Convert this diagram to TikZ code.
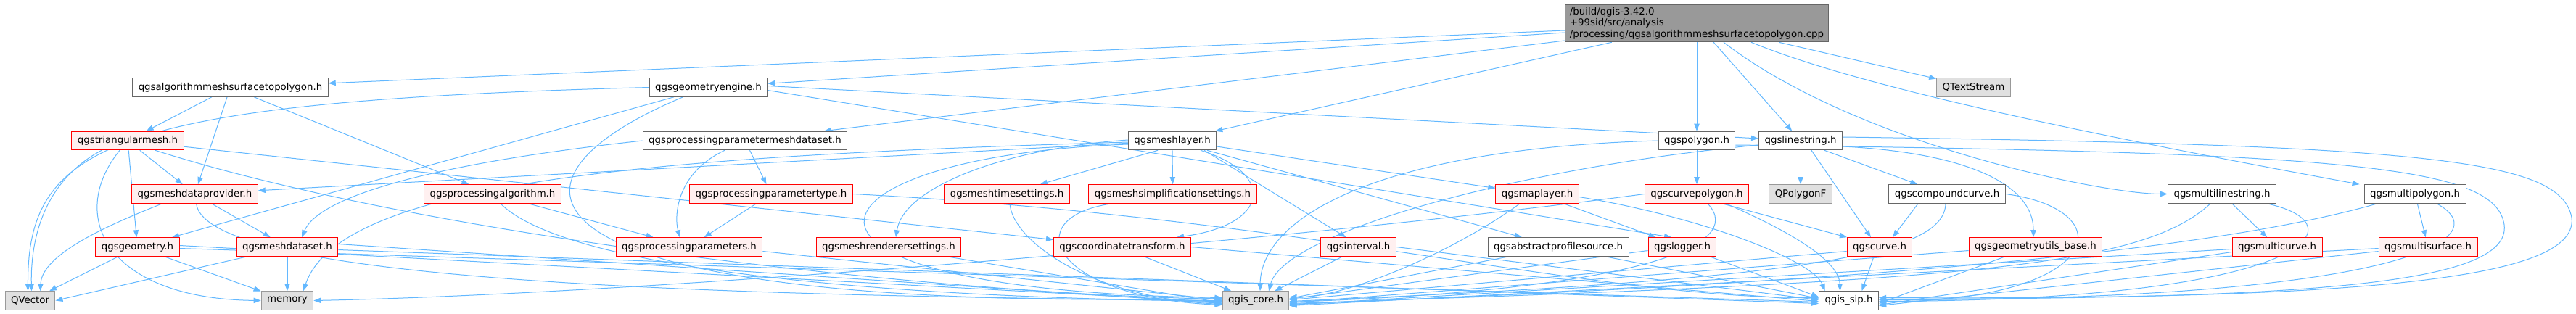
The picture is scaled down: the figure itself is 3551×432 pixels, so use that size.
\documentclass[tikz,border=0pt]{standalone}
\usepackage{fontspec}
\setmainfont{DejaVu Sans}
\usetikzlibrary{arrows.meta,calc}
\definecolor{edgec}{HTML}{63B8FF}
\definecolor{rootfill}{HTML}{999999}
\definecolor{rootdraw}{HTML}{666666}
\definecolor{wdraw}{HTML}{666666}
\definecolor{redfill}{HTML}{FFF0F0}
\definecolor{reddraw}{HTML}{FF0000}
\definecolor{grayfill}{HTML}{E0E0E0}
\definecolor{graydraw}{HTML}{999999}
\pgfdeclarelayer{bg}
\pgfsetlayers{bg,main}
\begin{document}
\begin{tikzpicture}[x=0.75pt,y=0.75pt,
  every node/.style={font=\fontsize{10}{11.5}\selectfont, inner xsep=6pt, inner ysep=0pt, minimum height=19.2pt, line width=0.75pt},
  rootn/.style={fill=rootfill, draw=rootdraw, align=left, inner ysep=3pt, inner xsep=5pt},
  wn/.style={fill=white, draw=wdraw},
  rn/.style={fill=redfill, draw=reddraw},
  gn/.style={fill=grayfill, draw=graydraw},
  edg/.style={draw=edgec, line width=0.75pt, -{Triangle[length=7.5pt,width=5.5pt]}}
]
\useasboundingbox (0,0) rectangle (3551,-432);
% root
\node[rootn] (root) at (2339,-32) {/build/qgis-3.42.0\\+99sid/src/analysis\\/processing/qgsalgorithmmeshsurfacetopolygon.cpp};
% row 1
\node[wn] (alg) at (317.5,-120.5) {qgsalgorithmmeshsurfacetopolygon.h};
\node[wn] (ge) at (976.5,-120.5) {qgsgeometryengine.h};
\node[gn] (qts) at (2720.5,-120.5) {QTextStream};
% row 2
\node[rn] (tri) at (176,-194) {qgstriangularmesh.h};
\node[wn] (ppmd) at (1027,-194) {qgsprocessingparametermeshdataset.h};
\node[wn] (ml) at (1616,-194) {qgsmeshlayer.h};
\node[wn] (poly) at (2339,-194) {qgspolygon.h};
\node[wn] (ls) at (2482,-194) {qgslinestring.h};
% row 3
\node[rn] (mdp) at (268.5,-267.5) {qgsmeshdataprovider.h};
\node[rn] (palg) at (679,-267.5) {qgsprocessingalgorithm.h};
\node[rn] (ppt) at (1063,-267.5) {qgsprocessingparametertype.h};
\node[rn] (mts) at (1388,-267.5) {qgsmeshtimesettings.h};
\node[rn] (mss) at (1616.5,-267.5) {qgsmeshsimplificationsettings.h};
\node[rn] (mapl) at (2119,-267.5) {qgsmaplayer.h};
\node[rn] (cpoly) at (2339,-267.5) {qgscurvepolygon.h};
\node[gn] (qpf) at (2482,-267.5) {QPolygonF};
\node[wn] (ccur) at (2684,-267.5) {qgscompoundcurve.h};
\node[wn] (mls) at (3063,-267.5) {qgsmultilinestring.h};
\node[wn] (mpoly) at (3329,-267.5) {qgsmultipolygon.h};
% row 4
\node[rn] (geom) at (189.5,-340.5) {qgsgeometry.h};
\node[rn] (mds) at (396,-340.5) {qgsmeshdataset.h};
\node[rn] (pp) at (950,-340.5) {qgsprocessingparameters.h};
\node[rn] (mrs) at (1225,-340.5) {qgsmeshrenderersettings.h};
\node[rn] (ct) at (1547,-340.5) {qgscoordinatetransform.h};
\node[rn] (intv) at (1872.5,-340.5) {qgsinterval.h};
\node[wn] (aps) at (2148,-340.5) {qgsabstractprofilesource.h};
\node[rn] (log) at (2319,-340.5) {qgslogger.h};
\node[rn] (curve) at (2591,-340.5) {qgscurve.h};
\node[rn] (gub) at (2806,-340.5) {qgsgeometryutils\_base.h};
\node[rn] (mcur) at (3139,-340.5) {qgsmulticurve.h};
\node[rn] (msurf) at (3347,-340.5) {qgsmultisurface.h};
% row 5
\node[gn] (qv) at (41.5,-414.5) {QVector};
\node[gn] (mem) at (396,-414.5) {memory};
\node[gn] (qc) at (1731,-414.5) {qgis\_core.h};
\node[wn] (qs) at (2548.5,-414.5) {qgis\_sip.h};

\begin{pgfonlayer}{bg}
% root
\draw[edg] ($(root.west)+(0,-10)$) -- (alg);
\draw[edg] ($(root.west)+(0,-13)$) -- (ge);
\draw[edg] ($(root.west)+(0,-24)$) -- (ppmd);
\draw[edg] (root) -- (ml);
\draw[edg] (root) -- (poly);
\draw[edg] (root) -- (ls);
\draw[edg] (root) -- (qts);
\draw[edg] ($(root.south)+(75,0)$) .. controls (2560,-118) and (2850,-180) .. ($(mpoly.north west)+(-6,0)$);
\draw[edg] ($(root.south)+(37,0)$) .. controls (2560,-200) and (2900,-267.5) .. (mls.west);
% alg
\draw[edg] (alg) -- (tri);
\draw[edg] (alg) -- (mdp);
\draw[edg] (alg) -- (palg);
% geometry engine
\draw[edg] (ge.west) .. controls (150,-140) and (38,-200) .. ($(qv.north)+(-3,0)$);
\draw[edg] (ge) -- (geom);
\draw[edg] ($(ge.south)+(-35,0)$) .. controls (640,-260) and (720,-430) .. ($(qc.west)+(0,3)$);
\draw[edg] ($(ge.east)+(0,2)$) -- (ls);
\draw[edg] ($(ge.east)+(0,-4)$) -- ($(log.north)+(-15,0)$);
% triangular mesh
\draw[edg] ($(tri.south)+(-36,0)$) .. controls (60,-250) and (42,-330) .. ($(qv.north)+(2,0)$);
\draw[edg] ($(tri.south)+(-11,0)$) .. controls (90,-300) and (150,-412) .. (mem.west);
\draw[edg] (tri) -- (geom);
\draw[edg] (tri) -- (mdp);
\draw[edg] (tri) -- (ct);
\draw[edg] ($(tri.south)+(38,0)$) .. controls (600,-330) and (1300,-405) .. ($(qc.west)+(0,2)$);
% mesh data provider
\draw[edg] ($(mdp.south)+(-45,0)$) .. controls (150,-310) and (58,-350) .. ($(qv.north)+(14,0)$);
\draw[edg] (mdp) -- (mds);
\draw[edg] ($(mdp.south)+(2,0)$) .. controls (285,-390) and (1000,-408) .. (qc.west);
% geometry
\draw[edg] (geom) -- (qv);
\draw[edg] (geom) -- (mem);
\draw[edg] ($(geom.east)+(0,2)$) -- ($(qc.west)+(0,-2)$);
\draw[edg] ($(geom.east)+(0,-2)$) -- ($(qs.west)+(0,-2)$);
% mesh dataset
\draw[edg] ($(mds.south west)+(15,0)$) -- (qv.east);
\draw[edg] (mds) -- (mem);
\draw[edg] ($(mds.east)+(0,4)$) -- ($(qc.west)+(0,-4)$);
\draw[edg] ($(mds.east)+(0,-4)$) -- ($(qs.west)+(0,-4)$);
% processing algorithm
\draw[edg] (palg) -- (pp);
\draw[edg] ($(palg.south)+(11,0)$) .. controls (780,-370) and (1200,-410) .. ($(qc.west)+(0,-1)$);
% processing parameter mesh dataset
\draw[edg] (ppmd.west) .. controls (600,-225) and (440,-270) .. ($(mds.north)+(20,0)$);
\draw[edg] ($(ppmd.south)+(-28,0)$) .. controls (930,-240) and (930,-300) .. ($(pp.north)+(-13,0)$);
\draw[edg] (ppmd) -- (ppt);
% processing parameter type
\draw[edg] (ppt) -- (pp);
\draw[edg] (ppt.east) .. controls (1800,-300) and (2200,-412) .. ($(qs.west)+(0,4)$);
% processing parameters / renderer settings
\draw[edg] ($(pp.east)+(0,-6)$) -- ($(qc.west)+(0,1)$);
\draw[edg] ($(mrs.south east)+(-20,0)$) -- ($(qc.west)+(0,-3)$);
% mesh layer
\draw[edg] (ml) -- (mdp);
\draw[edg] ($(ml.west)+(0,-2)$) .. controls (900,-215) and (470,-250) .. ($(mem.north)+(22,0)$);
\draw[edg] ($(ml.west)+(0,1)$) .. controls (1380,-205) and (1245,-260) .. ($(mrs.north)+(10,0)$);
\draw[edg] ($(ml.west)+(0,-5)$) .. controls (1100,-215) and (1000,-400) .. ($(qc.west)+(0,4)$);
\draw[edg] ($(ml.south)+(-20,0)$) -- (mts);
\draw[edg] (ml) -- (mss);
\draw[edg] ($(ml.south)+(39,0)$) .. controls (1760,-240) and (1750,-310) .. ($(ct.north)+(75,0)$);
\draw[edg] ($(ml.south)+(44,0)$) -- ($(intv.north)+(-17,0)$);
\draw[edg] ($(ml.east)+(0,-8)$) -- ($(mapl.west)+(0,8)$);
\draw[edg] ($(ml.south)+(48,0)$) -- ($(aps.north)+(-50,0)$);
% time / simplification settings
\draw[edg] ($(mts.south)+(4,0)$) .. controls (1395,-330) and (1500,-410) .. ($(qc.west)+(0,-5)$);
\draw[edg] ($(mss.south)+(-84,0)$) .. controls (1400,-300) and (1450,-410) .. ($(qc.west)+(0,-6)$);
% coordinate transform
\draw[edg] ($(ct.south)+(30,0)$) -- (qc);
\draw[edg] (ct.east) -- ($(qs.west)+(0,-1)$);
% interval
\draw[edg] ($(intv.south)+(-22,0)$) -- (qc);
\draw[edg] (intv.east) -- ($(qs.west)+(0,1)$);
% map layer
\draw[edg] ($(mapl.south)+(-24,0)$) .. controls (2000,-350) and (1850,-412) .. ($(qc.east)+(0,5)$);
\draw[edg] (mapl) -- (log);
\draw[edg] ($(mapl.east)+(0,-4)$) .. controls (2350,-300) and (2500,-360) .. ($(qs.north)+(-33,0)$);
% abstract profile source
\draw[edg] ($(aps.south)+(-68,0)$) -- ($(qc.east)+(0,3)$);
\draw[edg] ($(aps.south)+(65,0)$) -- ($(qs.west)+(0,3)$);
% logger
\draw[edg] ($(log.west)+(0,-5)$) -- ($(qc.east)+(0,2)$);
\draw[edg] ($(log.south)+(38,0)$) -- ($(qs.west)+(0,5)$);
% polygon
\draw[edg] (poly) -- (cpoly);
\draw[edg] (poly.west) .. controls (1900,-205) and (1738,-300) .. ($(qc.north)+(6,0)$);
\draw[edg] ($(poly.east)+(0,-6)$) .. controls (3250,-210) and (3440,-230) .. (3452,-310) .. controls (3462,-390) and (3200,-412) .. ($(qs.east)+(0,2)$);
% linestring
\draw[edg] ($(ls.west)+(0,-6)$) .. controls (2100,-230) and (1770,-320) .. ($(qc.north)+(18,0)$);
\draw[edg] (ls) -- (qpf);
\draw[edg] ($(ls.south)+(15,0)$) -- ($(curve.north)+(-12,0)$);
\draw[edg] ($(ls.south east)+(-25,0)$) -- ($(ccur.north west)+(40,0)$);
\draw[edg] ($(ls.east)+(0,-8)$) .. controls (2700,-210) and (2803,-250) .. ($(gub.north)+(-3,0)$);
\draw[edg] ($(ls.east)+(0,5)$) .. controls (3350,-200) and (3530,-220) .. (3545,-300) .. controls (3555,-380) and (3300,-414) .. ($(qs.east)+(0,4)$);
% curve polygon
\draw[edg] ($(cpoly.south)+(35,0)$) -- ($(curve.north)+(-45,0)$);
\draw[edg] ($(cpoly.south)+(40,0)$) .. controls (2470,-320) and (2535,-360) .. ($(qs.north)+(-12,0)$);
\draw[edg] ($(cpoly.south)+(15,0)$) .. controls (2410,-340) and (2250,-400) .. ($(qc.east)+(0,-2)$);
\draw[edg] (cpoly.west) .. controls (1800,-330) and (900,-405) .. (mem.east);
% curve
\draw[edg] ($(curve.south)+(-8,0)$) -- ($(qs.north)+(18,0)$);
\draw[edg] ($(curve.west)+(0,-6)$) -- ($(qc.east)+(0,1)$);
% compound curve
\draw[edg] ($(ccur.south)+(-40,0)$) -- ($(curve.north)+(18,0)$);
\draw[edg] ($(ccur.south)+(-2,0)$) .. controls (2680,-350) and (2500,-385) .. ($(qc.east)+(0,-1)$);
\draw[edg] (ccur.east) .. controls (2930,-290) and (2900,-414) .. ($(qs.east)+(0,-2)$);
% geometry utils base
\draw[edg] ($(gub.west)+(0,-5)$) -- ($(qc.east)+(0,-3)$);
\draw[edg] ($(gub.south)+(-42,0)$) -- ($(qs.east)+(0,-4)$);
% multilinestring
\draw[edg] (mls) -- (mcur);
\draw[edg] ($(mls.south)+(-16,0)$) .. controls (2950,-370) and (2700,-388) .. ($(qc.east)+(0,-4)$);
\draw[edg] ($(mls.south)+(62,0)$) .. controls (3260,-310) and (3180,-414) .. ($(qs.east)+(0,-1)$);
% multipolygon
\draw[edg] (mpoly) -- (msurf);
\draw[edg] ($(mpoly.south)+(-52,0)$) .. controls (3000,-360) and (2400,-395) .. ($(qc.east)+(0,-5)$);
\draw[edg] ($(mpoly.south)+(30,0)$) .. controls (3450,-330) and (3300,-414) .. ($(qs.east)+(0,1)$);
% multicurve / multisurface
\draw[edg] ($(mcur.west)+(0,-3)$) -- ($(qc.east)+(0,-6)$);
\draw[edg] ($(mcur.west)+(0,-7)$) -- ($(qs.east)+(0,-6)$);
\draw[edg] ($(msurf.west)+(0,-2)$) -- ($(qc.east)+(0,-7)$);
\draw[edg] ($(msurf.west)+(0,-6)$) -- ($(qs.east)+(0,-7)$);
\end{pgfonlayer}
\end{tikzpicture}
\end{document}
